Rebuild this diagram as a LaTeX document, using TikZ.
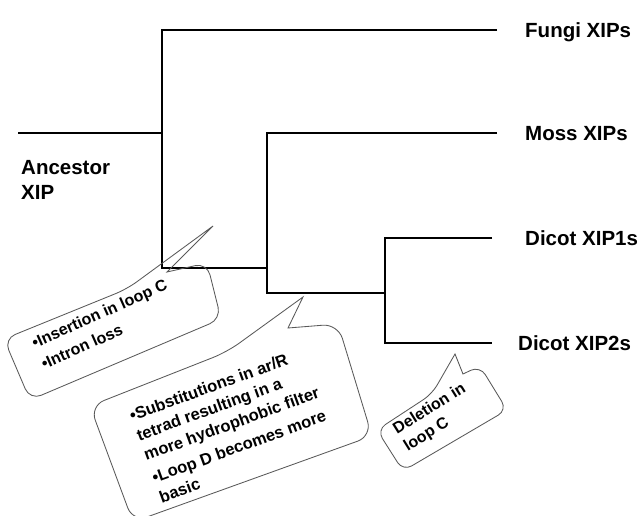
\documentclass[tikz,border=0pt]{standalone}
\usepackage{fontspec}
\setmainfont{Liberation Sans}
\begin{document}
\begin{tikzpicture}[x=1pt,y=-1pt,
  branch/.style={line width=2.5pt, line join=miter},
  leaf/.style={font=\fontsize{20.5}{24}\selectfont\bfseries, anchor=base west, inner sep=0pt},
  bubble/.style={draw=black!65, line width=0.85pt, line join=miter},
  bubbletext/.style={font=\fontsize{16}{20}\selectfont\bfseries, align=left, inner sep=0pt}]
\useasboundingbox (0,0) rectangle (640,516);

% tree coordinates
\coordinate (root) at (18,133);
\coordinate (j1) at (162,133);
\coordinate (fungiEnd) at (497,30);
\coordinate (j1b) at (162,268);
\coordinate (j2) at (267,268);
\coordinate (mossEnd) at (497,133);
\coordinate (j2b) at (267,293);
\coordinate (j3) at (385,293);
\coordinate (d1End) at (492,238);
\coordinate (j3b) at (385,343);
\coordinate (d2End) at (492,343);

\draw[branch] (root) -- (j1);
\draw[branch] (fungiEnd) -| (j1b) -- (j2);
\draw[branch] (mossEnd) -| (j2b) -- (j3);
\draw[branch] (d1End) -| (j3b) -- (d2End);

% labels
\node[leaf] (fungi) at (525,37.5) {Fungi XIPs};
\node[leaf] (moss) at (525,140.5) {Moss XIPs};
\node[leaf] (dicot1) at (525,245.5) {Dicot XIP1s};
\node[leaf] (dicot2) at (518,350.5) {Dicot XIP2s};
\node[leaf] (anc1) at (21,175) {Ancestor};
\node[leaf] (anc2) at (21,199) {XIP};

% callout 1
\coordinate (t1) at (213,226);
\coordinate (b1a) at (127,289);
\coordinate (b1b) at (167,272);
\coordinate (tr1) at (207,263);
\coordinate (br1) at (221,319);
\coordinate (bl1) at (30,400);
\coordinate (tl1) at (4,339);
\draw[bubble] (t1) -- (b1b) [rounded corners=12pt] -- (tr1) -- (br1) -- (bl1) -- (tl1) -- (b1a) [sharp corners] -- cycle;
\node[bubbletext, rotate=24, font=\fontsize{16}{21}\selectfont\bfseries] (c1) at (104,324) {\textbullet Insertion in loop C\\[2pt]\textbullet Intron loss};

% callout 2
\coordinate (t2) at (303,297);
\coordinate (b2a) at (227,352);
\coordinate (b2b) at (288,328);
\coordinate (tr2) at (338,324);
\coordinate (br2) at (372,436);
\coordinate (bl2) at (133,522);
\coordinate (tl2) at (90,406);
\draw[bubble] (t2) -- (b2b) [rounded corners=15pt] -- (tr2) -- (br2) -- (bl2) -- (tl2) -- (b2a) [sharp corners] -- cycle;
\node[bubbletext, rotate=20, font=\fontsize{16.5}{21}\selectfont\bfseries] (c2) at (232,425) {\textbullet Substitutions in ar/R\\tetrad resulting in a\\more hydrophobic filter\\[3pt]\textbullet Loop D becomes more\\basic};

% callout 3
\coordinate (t3) at (455,354);
\coordinate (b3a) at (432,394);
\coordinate (b3b) at (463,374);
\coordinate (tr3) at (480,366);
\coordinate (br3) at (507,410);
\coordinate (bl3) at (403,471);
\coordinate (tl3) at (377,430);
\draw[bubble] (t3) -- (b3b) [rounded corners=10pt] -- (tr3) -- (br3) -- (bl3) -- (tl3) -- (b3a) [sharp corners] -- cycle;
\node[bubbletext, rotate=32] (c3) at (435,418) {Deletion in\\loop C};
\end{tikzpicture}
\end{document}
